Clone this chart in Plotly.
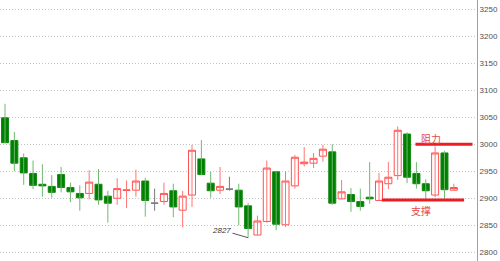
import plotly.graph_objects as go

# ---- data (daily candles) ----
open_ = [3049, 3007, 2975, 2946, 2926, 2922, 2944, 2920, 2909, 2909,
         2926, 2904, 2900, 2914.5, 2915, 2932, 2891, 2894, 2914, 2878,
         2906, 2973, 2928, 2915, 2917, 2915, 2886, 2832, 2857, 2949,
         2851, 2923, 2964, 2965, 2978, 2986, 2899, 2907, 2894, 2902,
         2896, 2927, 2942, 3019, 2946, 2927, 2906, 2984, 2915]
high = [3075, 3023, 2983, 2970, 2963, 2943, 2958, 2929, 2924, 2952,
        2954, 2914, 2937, 2933, 2953, 2938, 2918, 2929, 2927, 2914,
        2999, 3008, 2949, 2958, 2940, 2927, 2891, 2868, 2970, 2950,
        2950, 2980, 2995, 2984, 2999, 3000, 2934, 2919, 2918, 2967,
        2947, 2967, 3033, 3022, 2967, 2935, 2996, 2988, 2927]
low = [3002, 2950, 2925, 2917, 2903, 2901, 2911, 2893, 2877, 2898,
       2888, 2855, 2888, 2882, 2903, 2866, 2877, 2888, 2865, 2846,
       2884, 2943, 2901, 2908, 2914, 2850, 2827, 2831, 2855, 2841,
       2847, 2918, 2959, 2956, 2968, 2888, 2898, 2875, 2877, 2890,
       2896, 2917, 2934, 2928, 2918, 2899, 2902, 2898, 2914]
close = [3003, 2965, 2947, 2924, 2923, 2911, 2920, 2912, 2901, 2930,
         2897, 2891, 2918, 2915.5, 2932, 2896, 2891, 2909, 2884, 2904,
         2989, 2944, 2914, 2922, 2917, 2884, 2844, 2858, 2956, 2852,
         2932, 2976, 2967, 2974, 2991, 2891, 2912, 2894, 2885, 2899,
         2932, 2939, 3026, 2939, 2927, 2914, 2984, 2916, 2920]

tick_values = [2800, 2850, 2900, 2950, 3000, 3050, 3100, 3150, 3200, 3250]
tick_labels = [str(v) for v in tick_values]

levels = [3000, 2897]            # resistance, support
level_names = ["阻力", "支撑"]
low_label = "2827"

idx = list(range(len(open_)))

# ---- styling ----
RED_LINE = "#ff5252"
RED_WICK = "#ff7474"
GREEN_FILL = "#008000"
GREEN_LINE = "#138a13"
GREEN_WICK = "#70b870"
GREY = "#7a7a7a"
LEVEL_RED = "#ec1c24"

groups = {
    "up": [i for i in idx if close[i] > open_[i]],
    "down": [i for i in idx if close[i] < open_[i]],
    "flat": [i for i in idx if close[i] == open_[i]],
}
wick_colors = {"up": RED_WICK, "down": GREEN_WICK, "flat": GREY}
body_styles = {
    "up": (RED_LINE, "#ffffff"),
    "down": (GREEN_LINE, GREEN_FILL),
    "flat": (GREY, GREY),
}

fig = go.Figure()

# wicks
for g, members in groups.items():
    xs, ys = [], []
    for i in members:
        xs += [i, i, None]
        ys += [low[i], high[i], None]
    fig.add_trace(go.Scatter(x=xs, y=ys, mode="lines",
                             line=dict(color=wick_colors[g], width=1),
                             hoverinfo="skip", showlegend=False))

# bodies
for g, members in groups.items():
    if not members:
        continue
    lc, fc = body_styles[g]
    fig.add_trace(go.Candlestick(
        x=members,
        open=[open_[i] for i in members],
        close=[close[i] for i in members],
        high=[max(open_[i], close[i]) for i in members],
        low=[min(open_[i], close[i]) for i in members],
        increasing=dict(line=dict(color=lc, width=1), fillcolor=fc),
        decreasing=dict(line=dict(color=lc, width=1), fillcolor=fc),
        whiskerwidth=0, showlegend=False))

# support / resistance lines
level_spans = [(43.9, 50.0), (40.3, 49.1)]
label_pos = [(45.56, 3010), (44.44, 2878)]
for lv, (x0, x1), name, (lx, ly) in zip(levels, level_spans, level_names, label_pos):
    fig.add_shape(type="line", xref="x", yref="y", x0=x0, x1=x1, y0=lv, y1=lv,
                  line=dict(color=LEVEL_RED, width=3))
    fig.add_annotation(x=lx, y=ly, text=name, showarrow=False,
                       font=dict(family="Noto Sans CJK SC", size=10, color="#e64848"),
                       xanchor="center", yanchor="middle")

# lowest-low marker
imin = low.index(min(low))
fig.add_annotation(x=imin, y=low[imin], ax=23.16, ay=2841.3, axref="x", ayref="y",
                   text=low_label, showarrow=True, arrowhead=0, arrowwidth=1,
                   arrowcolor="#555555", standoff=0,
                   font=dict(family="Liberation Sans", size=8, color="#333333",
                             style="italic"))

fig.update_layout(
    width=500, height=261,
    margin=dict(l=0, r=23, t=0, b=0),
    paper_bgcolor="white", plot_bgcolor="white",
    boxmode="overlay", boxgap=0.25, boxgroupgap=0,
    showlegend=False,
    xaxis=dict(range=[-0.535, 50.48], showgrid=False, zeroline=False,
               showticklabels=False, showline=False, rangeslider=dict(visible=False),
               fixedrange=True),
    yaxis=dict(range=[2783.9, 3267.2], side="right", tickvals=tick_values,
               ticktext=tick_labels, showgrid=True, gridcolor="#c4c4c4",
               griddash="1px,2px", gridwidth=1, zeroline=False,
               showline=True, linecolor="#a0a0a0", linewidth=1, ticks="",
               tickfont=dict(family="Liberation Sans", size=8, color="#505050"),
               fixedrange=True),
)

fig.write_html("out.html")
